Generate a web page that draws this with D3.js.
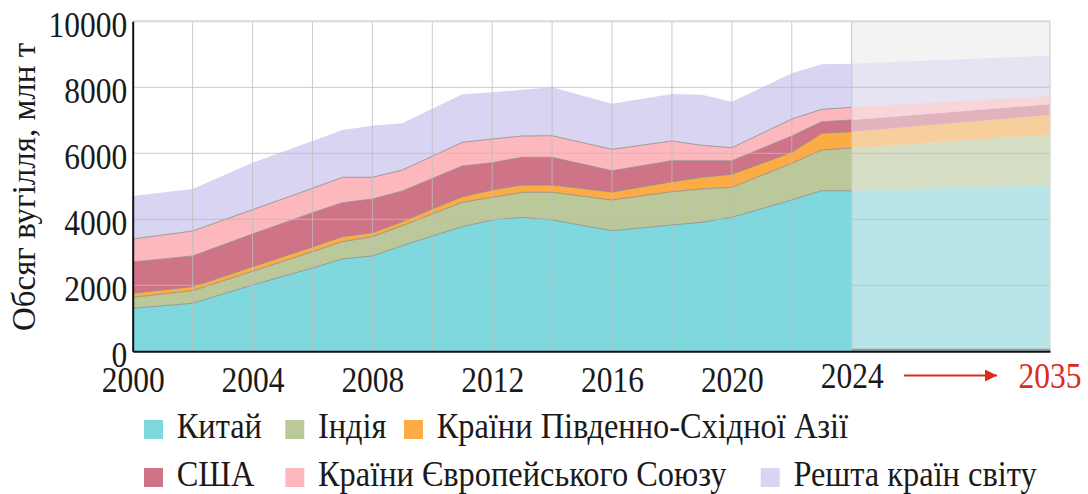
<!DOCTYPE html>
<html>
<head>
<meta charset="utf-8">
<script src="https://cdn.jsdelivr.net/npm/d3@7"></script>
<style>
  body { margin: 0; background: #fff; }
</style>
</head>
<body>
<script>
// data (млн т)
const years = [2000, 2002, 2004, 2006, 2007, 2008, 2009, 2010, 2011, 2012, 2013, 2014, 2016, 2018, 2019, 2020, 2022, 2023, 2024];
const china = [1303, 1455, 2009, 2524, 2797, 2888, 3200, 3494, 3776, 3979, 4061, 3979, 3655, 3827, 3909, 4061, 4585, 4867, 4867];
const india = [333, 381, 418, 494, 524, 585, 606, 667, 739, 688, 757, 839, 930, 1009, 1009, 909, 1112, 1233, 1294];
const seAsia = [122, 122, 137, 146, 152, 121, 121, 151, 170, 221, 221, 221, 242, 303, 355, 394, 333, 506, 494];
const usa = [948, 930, 991, 1036, 1030, 1021, 931, 924, 930, 827, 840, 840, 646, 637, 503, 412, 494, 352, 354];
const eu = [697, 757, 736, 739, 770, 658, 636, 676, 718, 718, 645, 654, 648, 597, 466, 394, 515, 375, 385];
const rest = [1303, 1273, 1424, 1434, 1433, 1563, 1415, 1436, 1455, 1415, 1403, 1467, 1382, 1424, 1534, 1394, 1385, 1364, 1321];

// forecast 2024 -> 2035
const projYears = [2024, 2035];
const projChina = [4867, 5039];
const projIndia = [1294, 1537];
const projSeAsia = [494, 585];
const projUsa = [354, 324];
const projEu = [385, 251];
const projRest = [1321, 1222];

const seriesNames = ["Китай", "Індія", "Країни Південно-Східної Азії", "США", "Країни Європейського Союзу", "Решта країн світу"];
const colors = ["#80d8df", "#bbc99a", "#fcab45", "#cf7387", "#fdb8bd", "#d9d4f2"];
const yTicks = [0, 2000, 4000, 6000, 8000, 10000];
const xTicks = [2000, 2004, 2008, 2012, 2016, 2020, 2024];

// layout
const width = 1088, height = 494;
const plotLeft = 132.7, plotSplit = 851.7, plotRight = 1050;
const plotTop = 21.3, plotBottom = 351.3;
const serif = '"Liberation Serif", "DejaVu Serif", "Noto Serif", "Noto Serif CJK SC", "Times New Roman", Times, "Nimbus Roman", "Nimbus Roman No9 L", FreeSerif, Tinos, Georgia, serif';
const sx = 0.9; // the glyphs in the picture are a bit narrow

const x = d3.scaleLinear().domain([2000, 2024, 2035]).range([plotLeft, plotSplit, plotRight]);
const y = d3.scaleLinear().domain([0, 10000]).range([plotBottom, plotTop]);

const keys = d3.range(6);
const histSeries = [china, india, seAsia, usa, eu, rest];
const projSeries = [projChina, projIndia, projSeAsia, projUsa, projEu, projRest];

const histRows = years.map((yr, i) => {
  const r = { year: yr };
  keys.forEach(k => r[k] = histSeries[k][i]);
  return r;
});
const projRows = projYears.map((yr, i) => {
  const r = { year: yr };
  keys.forEach(k => r[k] = projSeries[k][i]);
  return r;
});

const stack = d3.stack().keys(keys);
const histStack = stack(histRows);
const projStack = stack(projRows);

const area = d3.area()
  .x(d => x(d.data.year))
  .y0(d => y(d[0]))
  .y1(d => y(d[1]));
const edge = d3.line()
  .x(d => x(d.data.year))
  .y(d => y(d[1]));

const svg = d3.select("body").append("svg")
  .attr("width", width)
  .attr("height", height)
  .attr("font-family", serif)
  .attr("fill", "#1a1a1a");

// history
svg.append("g").selectAll("path")
  .data(histStack)
  .join("path")
  .attr("d", area)
  .attr("fill", (d, i) => colors[i]);

svg.append("g").selectAll("path")
  .data(histStack.slice(0, 5))
  .join("path")
  .attr("d", edge)
  .attr("fill", "none")
  .attr("stroke", "#8a8a8a")
  .attr("stroke-width", 0.8);

// forecast block
svg.append("rect")
  .attr("x", plotSplit)
  .attr("y", plotTop)
  .attr("width", plotRight - plotSplit)
  .attr("height", plotBottom - plotTop)
  .attr("fill", "#f3f3f3");

svg.append("g").selectAll("path")
  .data(projStack)
  .join("path")
  .attr("d", area)
  .attr("fill", (d, i) => colors[i])
  .attr("fill-opacity", 0.5);

// grid
const grid = svg.append("g").attr("stroke", "#bdbdbd").attr("stroke-opacity", 0.8);
grid.selectAll(".h")
  .data(yTicks.slice(1, 5))
  .join("line")
  .attr("class", "h")
  .attr("x1", plotLeft).attr("x2", plotRight)
  .attr("y1", d => y(d)).attr("y2", d => y(d));
grid.selectAll(".v")
  .data(d3.range(2002, 2025, 2))
  .join("line")
  .attr("class", "v")
  .attr("x1", d => x(d)).attr("x2", d => x(d))
  .attr("y1", plotTop).attr("y2", plotBottom);

// frame
svg.append("line")
  .attr("x1", plotLeft).attr("x2", plotRight)
  .attr("y1", plotTop).attr("y2", plotTop)
  .attr("stroke", "#d8d8d8").attr("stroke-width", 2);
svg.append("line")
  .attr("x1", plotRight).attr("x2", plotRight)
  .attr("y1", plotTop).attr("y2", plotBottom)
  .attr("stroke", "#d8d8d8").attr("stroke-width", 1.5);
svg.append("line")
  .attr("x1", plotSplit).attr("x2", plotRight)
  .attr("y1", plotBottom - 1.5).attr("y2", plotBottom - 1.5)
  .attr("stroke", "#9a9a9a").attr("stroke-width", 2);

// axes
const yAxis = svg.append("g")
  .attr("transform", `translate(${plotLeft},0)`)
  .call(d3.axisLeft(y).tickValues(yTicks).tickSize(0).tickPadding(6).tickFormat(d3.format("d")))
  .attr("font-family", serif)
  .attr("font-size", 35);
yAxis.select(".domain").attr("stroke", "#111").attr("stroke-width", 2);
yAxis.selectAll("text")
  .attr("dy", "0.42em")
  .attr("transform", `scale(${sx},1)`)
  .attr("fill", "#1a1a1a");

const xAxis = svg.append("g")
  .attr("transform", `translate(0,${plotBottom})`)
  .call(d3.axisBottom(x).tickValues(xTicks).tickSize(0).tickPadding(16).tickFormat(d3.format("d")))
  .attr("font-family", serif)
  .attr("font-size", 35);
xAxis.select(".domain").attr("stroke", "#111").attr("stroke-width", 2);
xAxis.selectAll(".tick")
  .each(function(d) {
    d3.select(this).select("text")
      .attr("y", d === 2024 ? 12 : 16)
      .attr("transform", `scale(${sx},1)`)
      .attr("fill", "#1a1a1a");
  });

// arrow to the forecast year
svg.append("defs").append("marker")
  .attr("id", "arrow")
  .attr("viewBox", "0 0 10 10")
  .attr("refX", 10).attr("refY", 5)
  .attr("markerWidth", 7).attr("markerHeight", 6)
  .attr("markerUnits", "strokeWidth")
  .attr("orient", "auto")
  .append("path")
  .attr("d", "M0,0L10,5L0,10Z")
  .attr("fill", "#d92b1e");

svg.append("line")
  .attr("x1", 904).attr("x2", 997)
  .attr("y1", 375.5).attr("y2", 375.5)
  .attr("stroke", "#d92b1e").attr("stroke-width", 2)
  .attr("marker-end", "url(#arrow)");

svg.append("text")
  .attr("transform", `translate(${x(2035)},388) scale(${sx},1)`)
  .attr("text-anchor", "middle")
  .attr("font-size", 35)
  .attr("fill", "#d92b1e")
  .text("2035");

// y title
svg.append("text")
  .attr("transform", "translate(35,187) rotate(-90)")
  .attr("text-anchor", "middle")
  .attr("font-size", 33)
  .text("Обсяг вугілля, млн т");

// legend
const legendPos = [[144, 438], [285.3, 438], [404, 438], [144, 486], [285.3, 486], [760.7, 486]];
const legend = svg.append("g").selectAll("g")
  .data(seriesNames)
  .join("g")
  .attr("transform", (d, i) => `translate(${legendPos[i][0]},${legendPos[i][1]})`);
legend.append("rect")
  .attr("x", 0).attr("y", -18)
  .attr("width", 19).attr("height", 19)
  .attr("fill", (d, i) => colors[i]);
legend.append("text")
  .attr("transform", `translate(32.7,0) scale(${sx},1)`)
  .attr("font-size", 36)
  .text(d => d);
</script>
</body>
</html>
